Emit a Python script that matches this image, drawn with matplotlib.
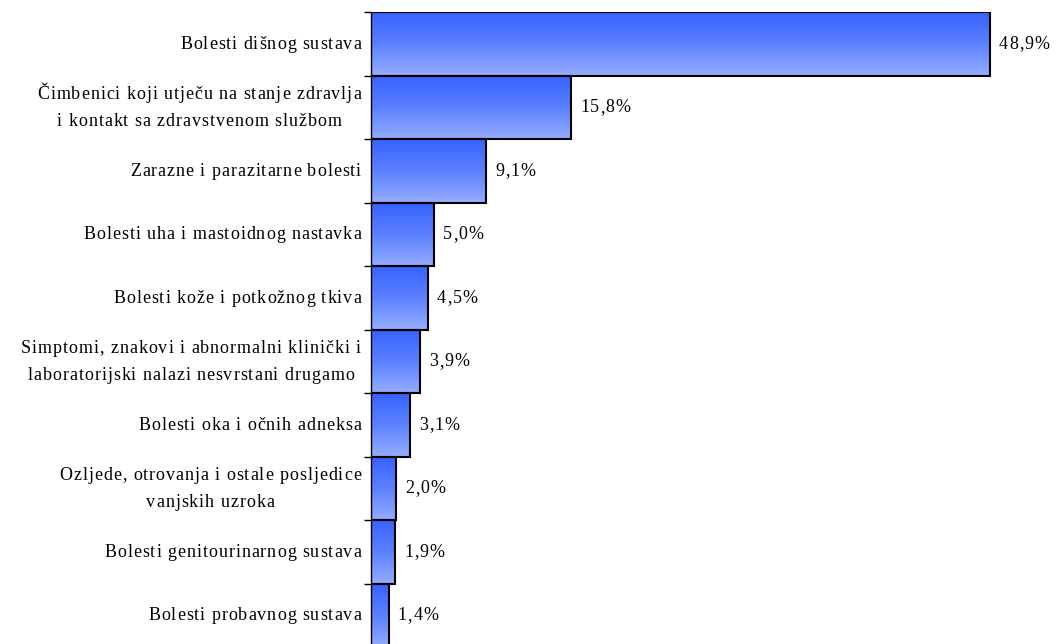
import matplotlib
matplotlib.use("Agg")
import matplotlib.pyplot as plt
import numpy as np
from matplotlib.colors import LinearSegmentedColormap
from matplotlib.font_manager import FontProperties, findfont, get_font
from matplotlib.transforms import offset_copy

categories = [
    "Bolesti dišnog sustava",
    "Čimbenici koji utječu na stanje zdravlja\ni kontakt sa zdravstvenom službom",
    "Zarazne i parazitarne bolesti",
    "Bolesti uha i mastoidnog nastavka",
    "Bolesti kože i potkožnog tkiva",
    "Simptomi, znakovi i abnormalni klinički i\nlaboratorijski nalazi nesvrstani drugamo",
    "Bolesti oka i očnih adneksa",
    "Ozljede, otrovanja i ostale posljedice\nvanjskih uzroka",
    "Bolesti genitourinarnog sustava",
    "Bolesti probavnog sustava",
]
values = [48.9, 15.8, 9.1, 5.0, 4.5, 3.9, 3.1, 2.0, 1.9, 1.4]
value_labels = ["48,9%", "15,8%", "9,1%", "5,0%", "4,5%", "3,9%", "3,1%", "2,0%", "1,9%", "1,4%"]

plt.rcParams['font.family'] = ['Liberation Serif', 'DejaVu Serif']

W, H = 1063, 644
DPI = 100
fig = plt.figure(figsize=(W / DPI, H / DPI), dpi=DPI)
left_px, top_px, bottom_px = 371, 12, -3
px_per_unit = 619 / 48.9
width_px = 690
ax = fig.add_axes([left_px / W, bottom_px / H, width_px / W, (H - top_px - bottom_px) / H])

n = len(categories)
y = np.arange(n)

cmap = LinearSegmentedColormap.from_list("g", ["#3662ff", "#5a80ff", "#95acff"])
grad = np.linspace(0, 1, 256).reshape(-1, 1)

bars = ax.barh(y, values, height=1.0, color="none", edgecolor="black", linewidth=1.5, zorder=3)
for b in bars:
    x0, y0 = b.get_x(), b.get_y()
    w, h = b.get_width(), b.get_height()
    ax.imshow(grad, extent=[x0, x0 + w, y0 + h, y0], cmap=cmap, aspect="auto",
              origin="upper", zorder=2, interpolation="bilinear")
ax.set_xlim(0, width_px / px_per_unit)
ax.set_ylim(n - 0.5, -0.5)

FS = 13
prop = FontProperties(family='Liberation Serif', size=FS)
font = get_font(findfont(prop))


def char_positions(s, track):
    font.set_size(FS, DPI)
    xs = []
    x = 0.0
    prev = None
    for i, ch in enumerate(s):
        gi = font.get_char_index(ord(ch))
        if prev is not None:
            x += font.get_kerning(prev, gi, 0) / 64.0
        xs.append(x + i * track)
        g = font.load_glyph(gi, flags=0)
        x += g.linearHoriAdvance / 65536.0
        prev = gi
    total = x + (len(s) - 1) * track
    return xs, total


def tracked_text(xd, yd, text, align, track, line_gap=27, base_shift=-4.8):
    lines = text.split("\n")
    info = [char_positions(l, track) for l in lines]
    block_w = max(t for _, t in info)
    nl = len(lines)
    for li, (line, (xs, tw)) in enumerate(zip(lines, info)):
        if align == "right":
            start = -block_w + (block_w - tw) / 2
        else:
            start = (block_w - tw) / 2
        dy = base_shift + ((nl - 1) / 2 - li) * line_gap
        for ch, cx in zip(line, xs):
            if ch == " ":
                continue
            tr = offset_copy(ax.transData, fig=fig, x=start + cx, y=dy, units="dots")
            ax.text(xd, yd, ch, transform=tr, ha="left", va="baseline",
                    fontsize=FS, family='Liberation Serif', clip_on=False)


for yi, c in zip(y, categories):
    tracked_text(-10 / px_per_unit, yi, c, "right", 0.95)

for yi, v, lab in zip(y, values, value_labels):
    tracked_text(v + 9 / px_per_unit, yi, lab, "left", 1.0)

ax.set_yticks(np.arange(-0.5, n, 1.0))
ax.set_yticklabels([])
ax.tick_params(axis="y", direction="out", length=5, width=1, color="black")
ax.set_xticks([])
for s in ["top", "right", "bottom"]:
    ax.spines[s].set_visible(False)
ax.spines["left"].set_linewidth(1)

fig.savefig("out.png", dpi=DPI)
